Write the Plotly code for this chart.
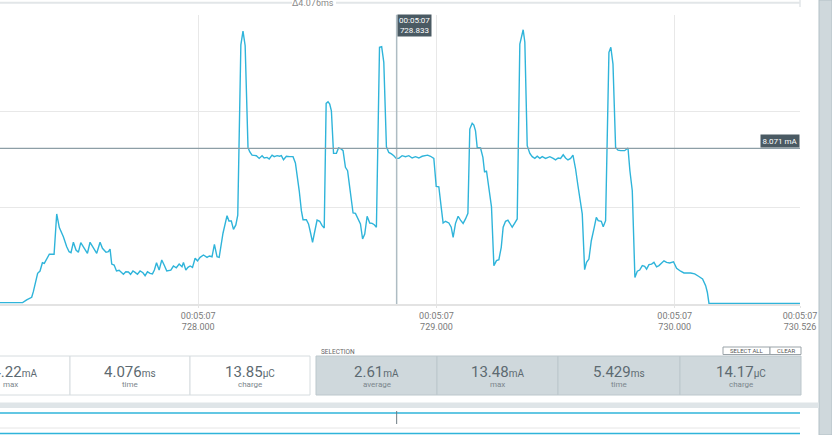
import plotly.graph_objects as go

W, H = 832, 435

# trace: time (ms, within 00:05:07) and current (mA)
time_ms = [
    727.168, 727.263, 727.280, 727.301, 727.308, 727.318, 727.326, 727.336, 727.346, 727.354,
    727.364, 727.375, 727.395, 727.406, 727.417, 727.427, 727.434, 727.448, 727.458, 727.466,
    727.476, 727.487, 727.497, 727.507, 727.518, 727.535, 727.546, 727.560, 727.574, 727.588,
    727.598, 727.613, 727.623, 727.630, 727.637, 727.647, 727.657, 727.668, 727.676, 727.686,
    727.696, 727.707, 727.716, 727.726, 727.735, 727.745, 727.756, 727.768, 727.777, 727.787,
    727.798, 727.808, 727.816, 727.825, 727.836, 727.847, 727.857, 727.868, 727.885, 727.896,
    727.908, 727.920, 727.932, 727.938, 727.948, 727.957, 727.966, 727.976, 727.987, 727.997,
    728.008, 728.022, 728.037, 728.047, 728.058, 728.068, 728.079, 728.088, 728.104, 728.121,
    728.129, 728.139, 728.148, 728.158, 728.166, 728.179, 728.188, 728.190, 728.197, 728.209,
    728.216, 728.226, 728.235, 728.244, 728.256, 728.268, 728.277, 728.289, 728.298, 728.310,
    728.319, 728.331, 728.342, 728.349, 728.358, 728.370, 728.384, 728.398, 728.408, 728.415,
    728.424, 728.433, 728.440, 728.454, 728.463, 728.471, 728.480, 728.487, 728.499, 728.510,
    728.520, 728.529, 728.537, 728.545, 728.552, 728.559, 728.566, 728.568, 728.580, 728.589,
    728.600, 728.608, 728.618, 728.627, 728.636, 728.646, 728.650, 728.660, 728.669, 728.681,
    728.690, 728.699, 728.709, 728.720, 728.730, 728.739, 728.748, 728.761, 728.770, 728.779,
    728.790, 728.800, 728.811, 728.821, 728.831, 728.842, 728.856, 728.870, 728.884, 728.898,
    728.912, 728.926, 728.940, 728.954, 728.963, 728.975, 728.989, 728.999, 729.010, 729.020,
    729.028, 729.038, 729.052, 729.062, 729.070, 729.080, 729.091, 729.101, 729.112, 729.122,
    729.132, 729.140, 729.150, 729.157, 729.164, 729.171, 729.185, 729.195, 729.202, 729.210,
    729.217, 729.227, 729.231, 729.241, 729.252, 729.262, 729.272, 729.280, 729.290, 729.300,
    729.308, 729.318, 729.328, 729.339, 729.350, 729.360, 729.364, 729.371, 729.381, 729.392,
    729.402, 729.413, 729.423, 729.434, 729.444, 729.458, 729.476, 729.490, 729.500, 729.511,
    729.521, 729.532, 729.542, 729.552, 729.563, 729.573, 729.584, 729.594, 729.605, 729.612,
    729.622, 729.630, 729.640, 729.650, 729.661, 729.671, 729.679, 729.692, 729.700, 729.710,
    729.724, 729.732, 729.741, 729.752, 729.762, 729.773, 729.790, 729.804, 729.812, 729.822,
    729.833, 729.843, 729.853, 729.864, 729.874, 729.882, 729.892, 729.903, 729.913, 729.924,
    729.934, 729.944, 729.955, 729.966, 729.979, 729.995, 730.008, 730.025, 730.039, 730.067,
    730.084, 730.100, 730.117, 730.130, 730.137, 730.144, 730.526,
]
current_ma = [
    0.07, 0.07, 0.21, 0.35, 0.64, 1.24, 1.59, 1.71, 2.14, 2.11,
    2.32, 2.58, 2.58, 4.67, 3.96, 3.67, 3.49, 2.97, 2.71, 2.66,
    3.20, 2.80, 2.68, 3.18, 2.97, 2.63, 3.20, 2.89, 2.63, 3.20,
    2.89, 2.68, 2.71, 2.85, 2.07, 2.02, 1.71, 1.75, 1.66, 1.54,
    1.67, 1.66, 1.54, 1.71, 1.64, 1.54, 1.71, 1.62, 1.47, 1.67,
    1.59, 1.56, 1.76, 2.14, 1.76, 2.28, 2.02, 1.71, 1.76, 1.97,
    1.88, 2.07, 1.93, 2.16, 1.76, 1.90, 1.97, 1.90, 2.37, 2.24,
    2.42, 2.54, 2.42, 2.49, 2.45, 3.09, 2.45, 2.42, 3.67, 4.58,
    4.30, 4.30, 3.87, 4.10, 4.61, 13.44, 14.15, 13.91, 13.39, 8.12,
    7.90, 7.72, 7.69, 7.69, 7.55, 7.69, 7.57, 7.60, 7.52, 7.72,
    7.64, 7.69, 7.66, 7.69, 7.48, 7.66, 7.64, 7.64, 7.31, 6.74,
    5.87, 4.84, 4.37, 4.37, 4.15, 3.72, 3.20, 3.63, 4.35, 4.29,
    4.06, 3.94, 10.40, 10.49, 10.37, 10.02, 8.47, 7.81, 7.81, 8.09,
    8.04, 7.95, 7.09, 6.91, 6.05, 5.18, 4.72, 4.70, 4.46, 4.15,
    3.37, 3.63, 4.55, 4.20, 4.18, 4.11, 3.98, 13.31, 13.34, 12.53,
    8.15, 7.86, 7.78, 7.69, 7.55, 7.55, 7.69, 7.64, 7.69, 7.57,
    7.64, 7.57, 7.66, 7.69, 7.72, 7.66, 7.55, 6.10, 6.08, 5.01,
    4.20, 4.29, 4.20, 3.98, 3.46, 4.18, 4.55, 4.35, 4.18, 4.41,
    4.70, 9.07, 9.37, 9.28, 8.98, 8.12, 8.09, 7.60, 6.83, 6.91,
    6.26, 5.61, 5.04, 1.99, 2.25, 2.30, 2.94, 3.98, 4.29, 4.35,
    4.18, 3.98, 4.18, 4.41, 13.48, 14.08, 14.22, 13.57, 8.21, 7.81,
    7.64, 7.55, 7.66, 7.55, 7.64, 7.55, 7.64, 7.55, 7.47, 7.57,
    7.55, 7.74, 7.57, 7.47, 7.55, 7.72, 7.00, 6.13, 5.18, 4.67,
    1.78, 2.16, 2.33, 3.28, 3.89, 4.49, 4.32, 4.29, 4.01, 4.32,
    13.05, 13.31, 12.44, 8.12, 7.98, 7.95, 7.95, 8.09, 6.91, 5.87,
    1.38, 1.70, 1.76, 1.99, 1.95, 1.81, 2.04, 2.07, 2.16, 1.93,
    1.99, 2.13, 2.24, 2.16, 2.13, 2.19, 1.85, 1.70, 1.61, 1.61,
    1.56, 1.44, 1.30, 0.95, 0.61, 0.03, 0.03,
]

x_ticks = [728.000, 729.000, 730.000, 730.526]
tick_stamp = "00:05:07"
cursor_t = 728.833
level_ma = 8.071
window_delta = "Δ4.076ms"

window_values = ["14.22", "4.076", "13.85"]
window_units = ["mA", "ms", "µC"]
window_labels = ["max", "time", "charge"]

selection_values = ["2.61", "13.48", "5.429", "14.17"]
selection_units = ["mA", "mA", "ms", "µC"]
selection_labels = ["average", "max", "time", "charge"]


def px(x):
    return x / W


def py(y):
    return 1 - y / H


TRACE = "#2fb4da"
FONT = "Roboto"

fig = go.Figure(go.Scatter(
    x=time_ms, y=current_ma, mode="lines",
    line=dict(color=TRACE, width=1.4), hoverinfo="skip",
))

shapes = []
ann = []

# cursor and level line
shapes.append(dict(type="line", xref="x", yref="paper", x0=cursor_t, x1=cursor_t,
                   y0=py(304), y1=py(14.7), line=dict(color="#aebcc3", width=1.5)))
shapes.append(dict(type="line", xref="paper", yref="y", x0=0, x1=px(800),
                   y0=level_ma, y1=level_ma, line=dict(color="#8d9ea6", width=1.2)))
ann.append(dict(x=cursor_t, xref="x", y=py(14.2), yref="paper", xanchor="left", yanchor="top",
                text=tick_stamp + "<br>" + "%.3f" % cursor_t, showarrow=False,
                bgcolor="#4a5a63", borderpad=1, font=dict(family=FONT, size=8, color="white")))
ann.append(dict(x=px(800), xref="paper", y=level_ma, yref="y", xanchor="right", yanchor="bottom",
                text="%.3f mA" % level_ma, showarrow=False,
                bgcolor="#4a5a63", borderpad=1.5, font=dict(family=FONT, size=8, color="white")))

# top bracket with delta
shapes.append(dict(type="line", xref="paper", yref="paper", x0=0, x1=px(292), y0=py(2.7), y1=py(2.7),
                   line=dict(color="#e2e6e8", width=2)))
shapes.append(dict(type="line", xref="paper", yref="paper", x0=px(336), x1=px(800), y0=py(2.7), y1=py(2.7),
                   line=dict(color="#e2e6e8", width=2)))
shapes.append(dict(type="line", xref="paper", yref="paper", x0=px(800), x1=px(800), y0=py(0), y1=py(7),
                   line=dict(color="#e2e6e8", width=1.5)))
ann.append(dict(x=px(313), y=py(2.5), xref="paper", yref="paper", text=window_delta, showarrow=False,
                xanchor="center", yanchor="middle", font=dict(family=FONT, size=9, color="#8a8a8a")))

# right scrollbar panel
shapes.append(dict(type="rect", xref="paper", yref="paper", x0=px(819), x1=1, y0=0, y1=1,
                   fillcolor="#cfd8dc", line=dict(color="#b3c0c6", width=1)))


def stat_box(x0, x1, value, unit, label, fill, edge):
    shapes.append(dict(type="rect", xref="paper", yref="paper", x0=px(x0), x1=px(x1),
                       y0=py(395), y1=py(356), fillcolor=fill, line=dict(color=edge, width=1)))
    cx = px((x0 + x1) / 2)
    ann.append(dict(x=cx, y=py(372), xref="paper", yref="paper", showarrow=False,
                    xanchor="center", yanchor="middle",
                    text=value + "<span style='font-size:10px'>" + unit + "</span>",
                    font=dict(family=FONT, size=15, color="#5d6a71")))
    ann.append(dict(x=cx, y=py(384.5), xref="paper", yref="paper", showarrow=False,
                    xanchor="center", yanchor="middle", text=label,
                    font=dict(family=FONT, size=8, color="#7b868c")))


win_edges = [-50, 70, 190, 310]
for i in range(3):
    stat_box(win_edges[i], win_edges[i + 1], window_values[i], window_units[i], window_labels[i],
             "white", "#d6dcdf")

sel_edges = [316, 437, 558, 680, 801]
for i in range(4):
    stat_box(sel_edges[i], sel_edges[i + 1], selection_values[i], selection_units[i], selection_labels[i],
             "#cfd8dc", "#bcc7cc")

ann.append(dict(x=px(319), y=py(351.5), xref="paper", yref="paper", showarrow=False,
                xanchor="left", yanchor="middle", text="SELECTION",
                font=dict(family=FONT, size=6.5, color="#666")))
for x0, x1, txt in [(723, 770, "SELECT ALL"), (770, 801, "CLEAR")]:
    shapes.append(dict(type="rect", xref="paper", yref="paper", x0=px(x0), x1=px(x1),
                       y0=py(354.5), y1=py(347), fillcolor="white", line=dict(color="#9aa3a8", width=1)))
    ann.append(dict(x=px((x0 + x1) / 2), y=py(350.8), xref="paper", yref="paper", showarrow=False,
                    xanchor="center", yanchor="middle", text=txt,
                    font=dict(family=FONT, size=6, color="#555")))

# minimap strip
shapes.append(dict(type="rect", xref="paper", yref="paper", x0=0, x1=px(819), y0=py(408), y1=py(402.5),
                   fillcolor="#dfe5e8", line=dict(width=0)))
shapes.append(dict(type="line", xref="paper", yref="paper", x0=0, x1=px(800), y0=py(413), y1=py(413),
                   line=dict(color=TRACE, width=1.5)))
shapes.append(dict(type="line", xref="paper", yref="paper", x0=0, x1=px(800), y0=py(428), y1=py(428),
                   line=dict(color="#e6e6e6", width=1)))
shapes.append(dict(type="line", xref="paper", yref="paper", x0=0, x1=px(800), y0=py(433.5), y1=py(433.5),
                   line=dict(color=TRACE, width=1.5)))
shapes.append(dict(type="line", xref="x", yref="paper", x0=cursor_t, x1=cursor_t, y0=py(424), y1=py(411),
                   line=dict(color="#6d7b82", width=1)))

fig.update_layout(
    width=W, height=H,
    margin=dict(l=0, r=0, t=0, b=0, autoexpand=False),
    paper_bgcolor="white", plot_bgcolor="white",
    showlegend=False,
    shapes=shapes, annotations=ann,
    xaxis=dict(
        domain=[0, px(800)], range=[727.168, 730.526], automargin=False,
        tickvals=x_ticks, ticktext=[tick_stamp + "<br>" + "%.3f" % t for t in x_ticks],
        ticks="outside", ticklen=2, tickcolor="#e3e3e3",
        showgrid=True, gridcolor="#e8e8e8", gridwidth=1,
        showline=True, linecolor="#e3e3e3", linewidth=1.5,
        zeroline=False, tickfont=dict(family=FONT, size=9, color="#7a7a7a"),
    ),
    yaxis=dict(
        domain=[py(304), py(14.7)], range=[0, 15], dtick=5, automargin=False,
        showticklabels=False, showgrid=True, gridcolor="#e8e8e8", gridwidth=1,
        zeroline=False, showline=False,
    ),
)

# the page's default 8px body margin would shift the whole picture
fix_page = "document.body.style.margin='0';document.body.style.overflow='hidden';"
fig.write_html("out.html", config={"displayModeBar": False}, post_script=fix_page)
